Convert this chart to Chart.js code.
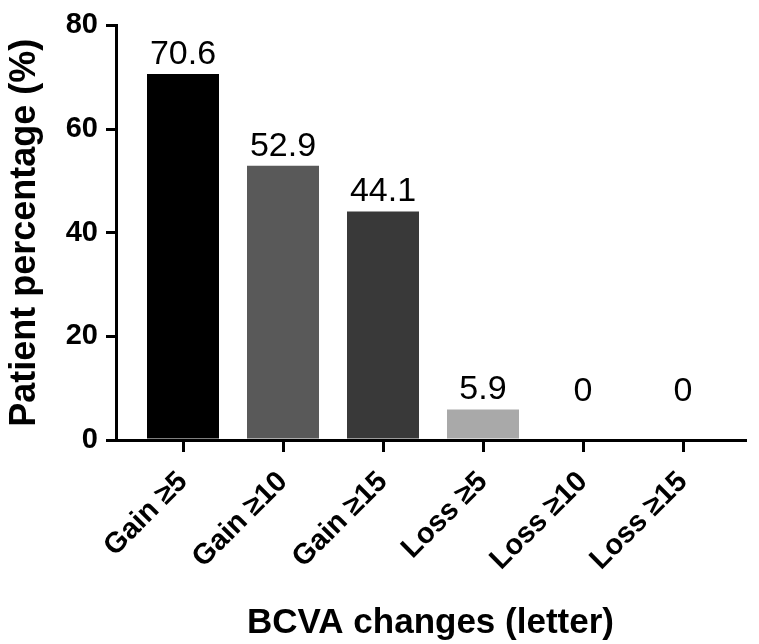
<!DOCTYPE html>
<html>
<head>
<meta charset="utf-8">
<script src="https://cdn.jsdelivr.net/npm/chart.js@4"></script>
<style>
  html, body { margin: 0; padding: 0; background: #ffffff; }
  #wrap { width: 759px; height: 644px; position: relative; }
</style>
</head>
<body>
<div id="wrap"><canvas id="c" width="759" height="644"></canvas></div>
<script>
const categories = ["Gain \u22655", "Gain \u226510", "Gain \u226515", "Loss \u22655", "Loss \u226510", "Loss \u226515"];
const values = [70.6, 52.9, 44.1, 5.9, 0, 0];
const valueLabels = ["70.6", "52.9", "44.1", "5.9", "0", "0"];
const barColors = ["#000000", "#595959", "#393939", "#a9a9a9", "#a9a9a9", "#a9a9a9"];
const yTicks = [0, 20, 40, 60, 80];

const FONT = "'Liberation Sans', Arial, Helvetica, sans-serif";

const valueLabelPlugin = {
  id: 'valueLabels',
  afterDatasetsDraw(chart) {
    const ctx = chart.ctx;
    const meta = chart.getDatasetMeta(0);
    const yScale = chart.scales.y;
    const zeroY = yScale.getPixelForValue(0);
    ctx.save();
    ctx.font = "34px " + FONT;
    ctx.fillStyle = "#000";
    ctx.textAlign = "center";
    ctx.textBaseline = "alphabetic";
    meta.data.forEach((bar, i) => {
      const by = Math.min(bar.y - 10, zeroY - 39);
      ctx.fillText(valueLabels[i], bar.x, by);
    });
    ctx.restore();
  }
};

new Chart(document.getElementById('c'), {
  type: 'bar',
  data: {
    datasets: [{
      data: values.map((v, i) => ({ x: i, y: v })),
      backgroundColor: barColors,
      borderWidth: 0,
      categoryPercentage: 1,
      barPercentage: 0.72
    }]
  },
  options: {
    responsive: false,
    animation: false,
    events: [],
    layout: { padding: { left: 0, right: 14, top: 17, bottom: 0 } },
    plugins: { legend: { display: false }, tooltip: { enabled: false } },
    scales: {
      x: {
        type: 'linear',
        offset: false,
        min: -0.67,
        max: 5.62,
        afterBuildTicks: (scale) => { scale.ticks = categories.map((c, i) => ({ value: i })); },
        afterFit: (scale) => { scale.height = 204; },
        ticks: {
          callback: (v) => categories[v],
          minRotation: 45,
          maxRotation: 45,
          autoSkip: false,
          color: '#000',
          padding: 13,
          font: { family: FONT, size: 29, weight: 'bold' }
        },
        grid: { display: true, offset: false, drawOnChartArea: false, drawTicks: true, tickLength: 12, color: '#000', lineWidth: 3 },
        border: { display: true, color: '#000', width: 3 },
        title: {
          display: true,
          text: 'BCVA changes (letter)',
          color: '#000',
          padding: { top: 0, bottom: 0 },
          font: { family: FONT, size: 35, weight: 'bold' }
        }
      },
      y: {
        min: 0,
        max: 80,
        afterBuildTicks: (scale) => { scale.ticks = yTicks.map(v => ({ value: v })); },
        afterFit: (scale) => { scale.width = 116; },
        ticks: {
          color: '#000',
          padding: 8,
          font: { family: FONT, size: 29, weight: 'bold' }
        },
        grid: { display: true, drawOnChartArea: false, drawTicks: true, tickLength: 10, color: '#000', lineWidth: 3 },
        border: { display: true, color: '#000', width: 3 },
        title: {
          display: true,
          text: 'Patient percentage (%)',
          color: '#000',
          padding: { top: 3, bottom: 0 },
          font: { family: FONT, size: 36, weight: 'bold' }
        }
      }
    }
  },
  plugins: [valueLabelPlugin]
});
</script>
</body>
</html>
